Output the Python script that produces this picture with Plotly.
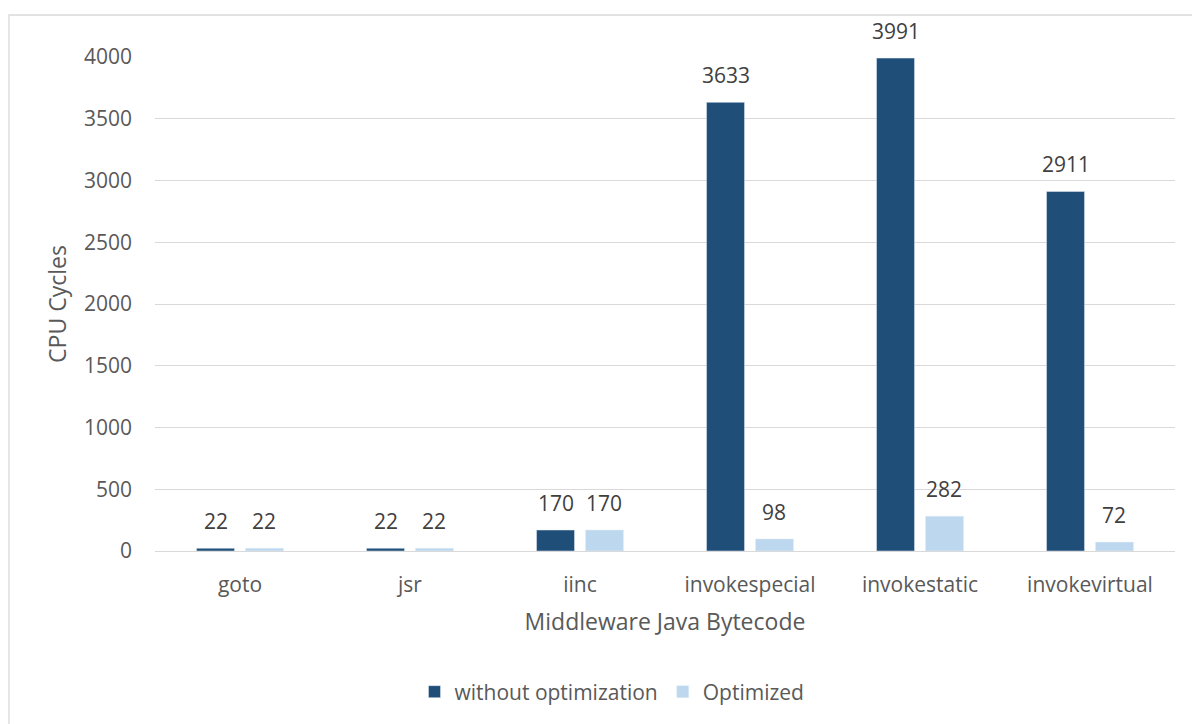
import plotly.graph_objects as go

categories = ["goto", "jsr", "iinc", "invokespecial", "invokestatic", "invokevirtual"]
without_opt = [22, 22, 170, 3633, 3991, 2911]
optimized = [22, 22, 170, 98, 282, 72]
y_ticks = [0, 500, 1000, 1500, 2000, 2500, 3000, 3500, 4000]

FONT = "Open Sans"
W, H = 1192, 724
ML, MR, MT, MB = 155, 17, 57, 173
PW = W - ML - MR
PH = H - MT - MB
BARGAP = 0.424
GROUPGAP = 0.224

DARK = "#1f4e79"
LIGHT = "#bdd7ee"

fig = go.Figure()
fig.add_trace(go.Bar(name="without optimization", x=categories, y=without_opt,
                     marker_color=DARK, cliponaxis=False))
fig.add_trace(go.Bar(name="Optimized", x=categories, y=optimized,
                     marker_color=LIGHT, cliponaxis=False))

# data labels, offset to sit over each bar of the group
slot = PW / len(categories) * (1 - BARGAP) / 2
for series, shift in ((without_opt, -slot / 2), (optimized, slot / 2)):
    for c, v in zip(categories, series):
        fig.add_annotation(x=c, y=v, text=str(v), showarrow=False,
                           xshift=shift, yshift=11, yanchor="bottom",
                           font=dict(family=FONT, size=21, color="#404040"))

fig.update_layout(
    width=W, height=H,
    margin=dict(l=ML, r=MR, t=MT, b=MB),
    paper_bgcolor="white", plot_bgcolor="white",
    barmode="group", bargap=BARGAP, bargroupgap=GROUPGAP,
    font=dict(family=FONT, color="#595959", size=21),
    xaxis=dict(title=dict(text="Middleware Java Bytecode", font=dict(size=23), standoff=16),
               tickfont=dict(size=21), showline=False, ticks="", ticklabelstandoff=19),
    yaxis=dict(title=dict(text="CPU Cycles", font=dict(size=23), standoff=10),
               range=[0, 4000], tickvals=y_ticks, tickfont=dict(size=21),
               showgrid=True, gridcolor="#d9d9d9", gridwidth=1.3, zeroline=True,
               zerolinecolor="#d9d9d9", zerolinewidth=1.3, ticks="", ticklabelstandoff=22),
    legend=dict(orientation="h", x=(612 - ML) / PW, xanchor="center",
                y=(MT + PH - 692) / PH, yanchor="middle",
                font=dict(size=21)),
    showlegend=True,
)

fig.add_shape(type="rect", xref="paper", yref="paper",
              x0=(9 - ML) / PW, x1=(W + 10 - ML) / PW,
              y0=(MT + PH - (H + 10)) / PH, y1=(MT + PH - 15) / PH,
              line=dict(color="#d9d9d9", width=1.3), fillcolor="rgba(0,0,0,0)", layer="below")

fig.write_html("out.html")
